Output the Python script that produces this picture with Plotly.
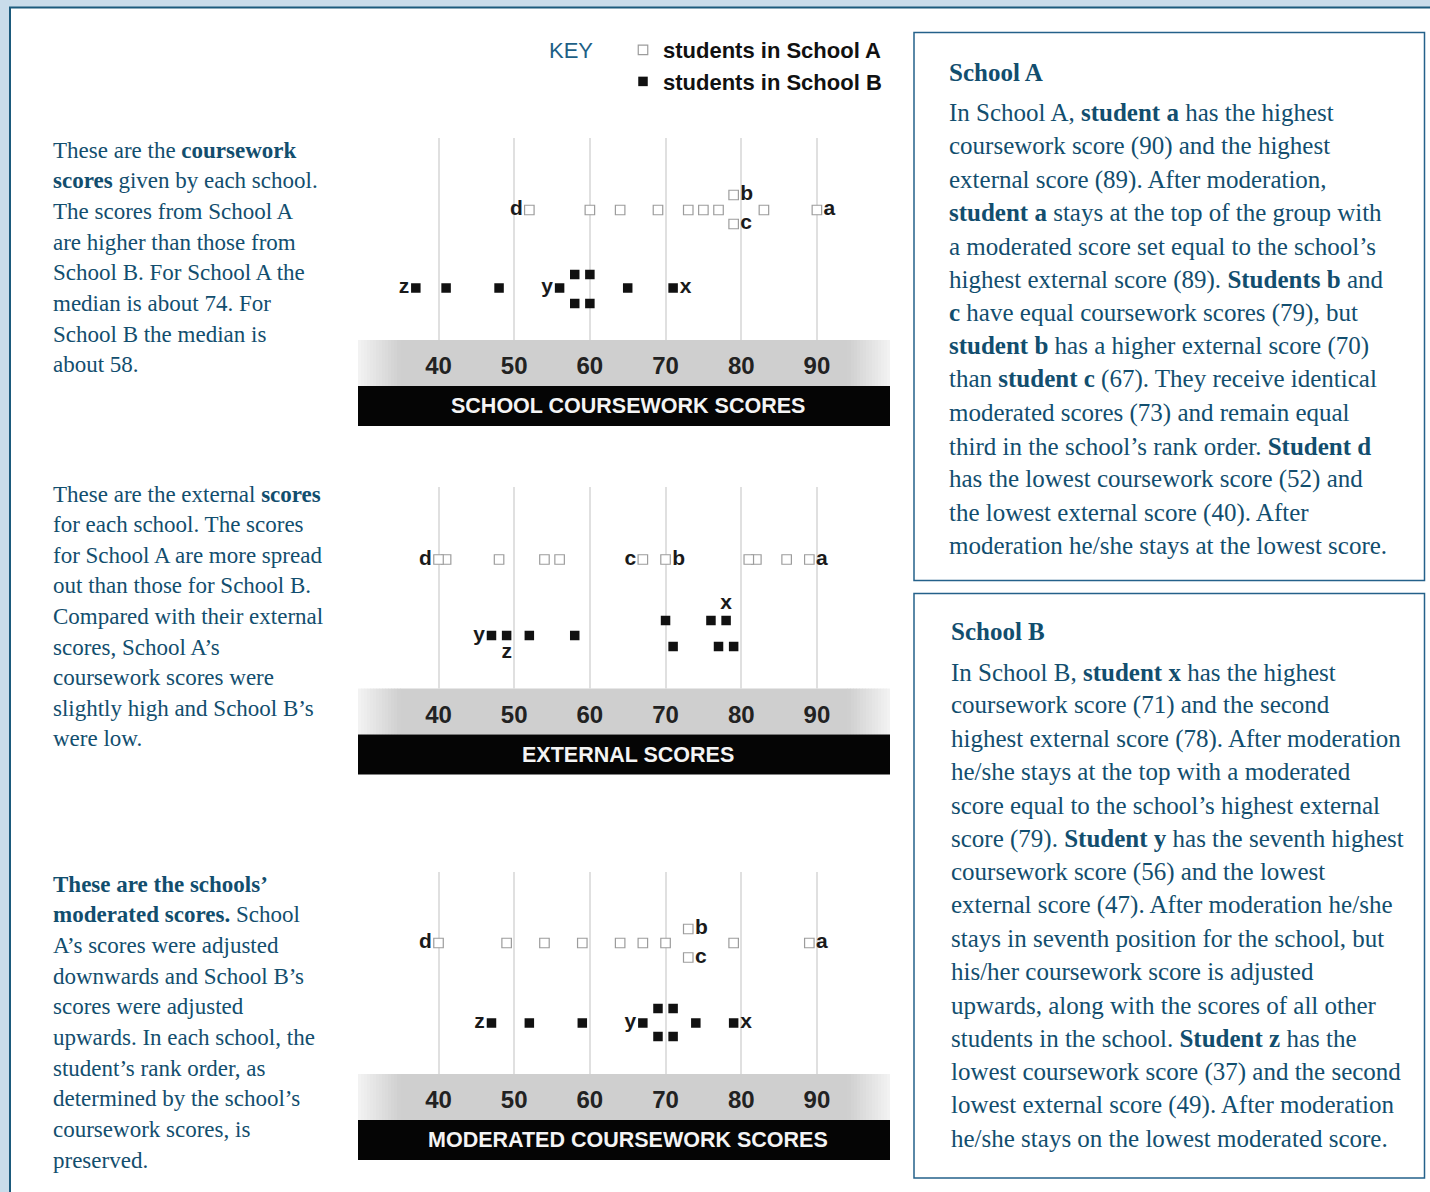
import plotly.graph_objects as go

# ---------------- data ----------------
score_ticks = [40, 50, 60, 70, 80, 90]

students_A = ["a", "", "b", "c", "", "", "", "", "", "", "d"]
coursework_A = [90, 83, 79, 79, 77, 75, 73, 69, 64, 60, 52]
external_A = [89, 86, 70, 67, 82, 81, 56, 54, 48, 41, 40]
moderated_A = [89, 79, 73, 73, 70, 67, 64, 59, 54, 49, 40]

students_B = ["x", "", "", "", "", "", "y", "", "", "z"]
coursework_B = [71, 65, 60, 60, 58, 58, 56, 48, 41, 37]
external_B = [78, 79, 77, 76, 71, 70, 47, 58, 52, 49]
moderated_B = [79, 74, 71, 71, 69, 69, 67, 59, 52, 47]

chart_titles = ["SCHOOL COURSEWORK SCORES", "EXTERNAL SCORES", "MODERATED COURSEWORK SCORES"]
key_title = "KEY"
key_labels = ["students in School A", "students in School B"]

left_texts = [
    ["These are the <b>coursework</b>",
     "<b>scores</b> given by each school.",
     "The scores from School A",
     "are higher than those from",
     "School B. For School A the",
     "median is about 74. For",
     "School B the median is",
     "about 58."],
    ["These are the external <b>scores</b>",
     "for each school. The scores",
     "for School A are more spread",
     "out than those for School B.",
     "Compared with their external",
     "scores, School A\u2019s",
     "coursework scores were",
     "slightly high and School B\u2019s",
     "were low."],
    ["<b>These are the schools\u2019</b>",
     "<b>moderated scores.</b> School",
     "A\u2019s scores were adjusted",
     "downwards and School B\u2019s",
     "scores were adjusted",
     "upwards. In each school, the",
     "student\u2019s rank order, as",
     "determined by the school\u2019s",
     "coursework scores, is",
     "preserved."],
]

box_titles = ["School A", "School B"]
box_texts = [
    ["In School A, <b>student a</b> has the highest",
     "coursework score (90) and the highest",
     "external score (89). After moderation,",
     "<b>student a</b> stays at the top of the group with",
     "a moderated score set equal to the school\u2019s",
     "highest external score (89). <b>Students b</b> and",
     "<b>c</b> have equal coursework scores (79), but",
     "<b>student b</b> has a higher external score (70)",
     "than <b>student c</b> (67). They receive identical",
     "moderated scores (73) and remain equal",
     "third in the school\u2019s rank order. <b>Student d</b>",
     "has the lowest coursework score (52) and",
     "the lowest external score (40). After",
     "moderation he/she stays at the lowest score."],
    ["In School B, <b>student x</b> has the highest",
     "coursework score (71) and the second",
     "highest external score (78). After moderation",
     "he/she stays at the top with a moderated",
     "score equal to the school\u2019s highest external",
     "score (79). <b>Student y</b> has the seventh highest",
     "coursework score (56) and the lowest",
     "external score (47). After moderation he/she",
     "stays in seventh position for the school, but",
     "his/her coursework score is adjusted",
     "upwards, along with the scores of all other",
     "students in the school. <b>Student z</b> has the",
     "lowest coursework score (37) and the second",
     "lowest external score (49). After moderation",
     "he/she stays on the lowest moderated score."],
]

# ---------------- layout / style ----------------
W, H = 1430, 1192
def px(p):
    return p / W
def py(p):
    return 1 - p / H

TEXT_COLOR = "#124e6e"
SERIF = "Liberation Serif, Times New Roman, serif"
SANS = "Liberation Sans, Arial, sans-serif"
NARROW = "Liberation Sans Narrow, Arial Narrow, Liberation Sans, sans-serif"

CHART_X0, CHART_X1 = 358, 890
X_RANGE = [29.36, 99.66]
CHART_OFFSETS = [0, 348.5, 734]
GRID_TOP, BAND_TOP, BAR_TOP, BAR_BOTTOM = 138, 340, 386, 426
Y_SPAN = BAND_TOP - GRID_TOP

# row heights (pixels above band top) per chart
ROWS = [
    {"m": 130, "u": 145, "l": 116, "Bm": 52, "Bu": 65.5, "Bl": 36.5},
    {"m": 129, "u": 145, "l": 116, "Bm": 53, "Bu": 68, "Bl": 42},
    {"m": 131, "u": 145, "l": 116.5, "Bm": 51, "Bu": 65.5, "Bl": 37.5},
]
A_ROWCODES = [
    ["m", "m", "u", "l", "m", "m", "m", "m", "m", "m", "m"],
    ["m"] * 11,
    ["m", "m", "u", "l", "m", "m", "m", "m", "m", "m", "m"],
]
B_ROWCODES = [
    ["Bm", "Bm", "Bu", "Bl", "Bu", "Bl", "Bm", "Bm", "Bm", "Bm"],
    ["Bu", "Bl", "Bl", "Bu", "Bl", "Bu", "Bm", "Bm", "Bm", "Bm"],
    ["Bm", "Bm", "Bu", "Bl", "Bu", "Bl", "Bm", "Bm", "Bm", "Bm"],
]
A_TEXTPOS = [
    {"a": "middle right", "b": "middle right", "c": "middle right", "d": "middle left"},
    {"a": "middle right", "b": "middle right", "c": "middle left", "d": "middle left"},
    {"a": "middle right", "b": "middle right", "c": "middle right", "d": "middle left"},
]
B_TEXTPOS = [
    {"x": "middle right", "y": "middle left", "z": "middle left"},
    {"x": "top center", "y": "middle left", "z": "bottom center"},
    {"x": "middle right", "y": "middle left", "z": "middle left"},
]

fig = go.Figure()

chart_sets = [(coursework_A, coursework_B), (external_A, external_B), (moderated_A, moderated_B)]

for i, (va, vb) in enumerate(chart_sets):
    xa = "x" if i == 0 else f"x{i+1}"
    ya = "y" if i == 0 else f"y{i+1}"
    r = ROWS[i]
    ya_pos = [r[c] for c in A_ROWCODES[i]]
    yb_pos = [r[c] for c in B_ROWCODES[i]]
    fig.add_trace(go.Scatter(
        x=va, y=ya_pos, mode="markers", name=key_labels[0],
        marker=dict(symbol="square", size=9.5, color="white",
                    line=dict(color="#9c9c9c", width=1.2)),
        xaxis=xa, yaxis=ya, showlegend=(i == 0), legendrank=1, hoverinfo="skip"))
    fig.add_trace(go.Scatter(
        x=vb, y=yb_pos, mode="markers", name=key_labels[1],
        marker=dict(symbol="square", size=9.5, color="#111111", line=dict(width=0)),
        xaxis=xa, yaxis=ya, showlegend=(i == 0), legendrank=2, hoverinfo="skip"))
    for names, vals, pos, tp in [(students_A, va, ya_pos, A_TEXTPOS[i]),
                                 (students_B, vb, yb_pos, B_TEXTPOS[i])]:
        idx = [k for k, n in enumerate(names) if n]
        fig.add_trace(go.Scatter(
            x=[vals[k] for k in idx], y=[pos[k] for k in idx],
            text=[names[k] for k in idx], mode="markers+text",
            textposition=[tp[names[k]] for k in idx],
            marker=dict(size=9, color="rgba(0,0,0,0)"),
            textfont=dict(family=NARROW, size=21, color="#1a1a1a", weight="bold"),
            xaxis=xa, yaxis=ya, showlegend=False, hoverinfo="skip"))

layout = dict(
    width=W, height=H, autosize=False,
    margin=dict(l=0, r=0, t=0, b=0),
    paper_bgcolor="#c9dcea", plot_bgcolor="rgba(0,0,0,0)",
    hovermode=False,
    showlegend=True,
    legend=dict(x=px(623), y=py(29), xanchor="left", yanchor="top",
                bgcolor="rgba(0,0,0,0)", borderwidth=0,
                font=dict(family=SANS, size=22, color="#111111", weight="bold"),
                itemclick=False, itemdoubleclick=False, traceorder="normal"),
)
for i, off in enumerate(CHART_OFFSETS):
    sfx = "" if i == 0 else str(i + 1)
    layout[f"xaxis{sfx}"] = dict(
        domain=[px(CHART_X0), px(CHART_X1)], range=X_RANGE, anchor=f"y{sfx}",
        tickvals=score_ticks, ticktext=[str(t) for t in score_ticks],
        showgrid=True, gridcolor="#e0e0e0", gridwidth=1.5,
        zeroline=False, showline=False, ticks="",
        tickfont=dict(family=NARROW, size=24, color="#222222", weight="bold"),
        ticklabelstandoff=9, fixedrange=True)
    layout[f"yaxis{sfx}"] = dict(
        domain=[py(BAND_TOP + off), py(GRID_TOP + off)], range=[0, Y_SPAN],
        visible=False, anchor=f"x{sfx}", fixedrange=True)
fig.update_layout(**layout)

shapes = []
# white panel
shapes.append(dict(type="rect", xref="paper", yref="paper", x0=px(10), x1=px(1460),
                   y0=py(7.5), y1=py(1230), fillcolor="white",
                   line=dict(color="#1b5a7c", width=2), layer="below"))
# text boxes
for (y0, y1) in [(32.5, 580.5), (593.5, 1178)]:
    shapes.append(dict(type="rect", xref="paper", yref="paper", x0=px(914), x1=px(1424.5),
                       y0=py(y0), y1=py(y1), fillcolor="rgba(0,0,0,0)",
                       line=dict(color="#24618a", width=1.5), layer="below"))


def mix(c1, c2, t):
    a = [int(c1[k:k + 2], 16) for k in (1, 3, 5)]
    b = [int(c2[k:k + 2], 16) for k in (1, 3, 5)]
    return "#" + "".join(f"{round(a[j] + (b[j] - a[j]) * t):02x}" for j in range(3))


EDGE, MID = "#f3f3f3", "#cfcfcf"
for off in CHART_OFFSETS:
    # gray band with faded edges
    shapes.append(dict(type="rect", xref="paper", yref="paper", x0=px(400), x1=px(848),
                       y0=py(BAND_TOP + off), y1=py(BAR_TOP + off), fillcolor=MID,
                       line=dict(width=0), layer="below"))
    n = 14
    for s in range(n):
        t = (s + 0.5) / n
        col = mix(EDGE, MID, t)
        shapes.append(dict(type="rect", xref="paper", yref="paper",
                           x0=px(CHART_X0 + 42 * s / n), x1=px(CHART_X0 + 42 * (s + 1) / n + 0.5),
                           y0=py(BAND_TOP + off), y1=py(BAR_TOP + off), fillcolor=col,
                           line=dict(width=0), layer="below"))
        shapes.append(dict(type="rect", xref="paper", yref="paper",
                           x0=px(CHART_X1 - 42 * (s + 1) / n - 0.5), x1=px(CHART_X1 - 42 * s / n),
                           y0=py(BAND_TOP + off), y1=py(BAR_TOP + off), fillcolor=col,
                           line=dict(width=0), layer="below"))
    # black title bar
    shapes.append(dict(type="rect", xref="paper", yref="paper", x0=px(CHART_X0), x1=px(CHART_X1),
                       y0=py(BAR_TOP + off), y1=py(BAR_BOTTOM + off), fillcolor="#050505",
                       line=dict(width=0), layer="below"))
fig.update_layout(shapes=shapes)

ann = []
# chart titles
for i, off in enumerate(CHART_OFFSETS):
    ann.append(dict(text=chart_titles[i], xref="paper", yref="paper",
                    x=px((CHART_X0 + CHART_X1) / 2 + 4), y=py((BAR_TOP + BAR_BOTTOM) / 2 + off),
                    xanchor="center", yanchor="middle", showarrow=False,
                    font=dict(family=SANS, size=21.5, color="#f4f4f4", weight="bold")))
# key title
ann.append(dict(text=key_title, xref="paper", yref="paper", x=px(547), y=py(51),
                xanchor="left", yanchor="middle", showarrow=False,
                font=dict(family=SANS, size=22, color="#1d5f86")))
# left paragraphs
left_starts = [(150, 30.7), (494, 30.6), (884, 30.7)]
for lines, (y0, step) in zip(left_texts, left_starts):
    for k, line in enumerate(lines):
        ann.append(dict(text=line, xref="paper", yref="paper", x=px(51), y=py(y0 + k * step),
                        xanchor="left", yanchor="middle", showarrow=False,
                        font=dict(family=SERIF, size=23, color=TEXT_COLOR)))
# right boxes
box_layout = [(947, 72, 113), (949, 631, 672)]
for title, lines, (x0, yt, yl) in zip(box_titles, box_texts, box_layout):
    ann.append(dict(text=f"<b>{title}</b>", xref="paper", yref="paper", x=px(x0), y=py(yt),
                    xanchor="left", yanchor="middle", showarrow=False,
                    font=dict(family=SERIF, size=25, color=TEXT_COLOR)))
    for k, line in enumerate(lines):
        ann.append(dict(text=line, xref="paper", yref="paper", x=px(x0), y=py(yl + k * 33.3),
                        xanchor="left", yanchor="middle", showarrow=False,
                        font=dict(family=SERIF, size=25, color=TEXT_COLOR)))
fig.update_layout(annotations=ann)

fig.write_html(
    "out.html",
    config={"displayModeBar": False},
    post_script="document.body.style.margin='0';document.body.style.overflow='hidden';",
)
